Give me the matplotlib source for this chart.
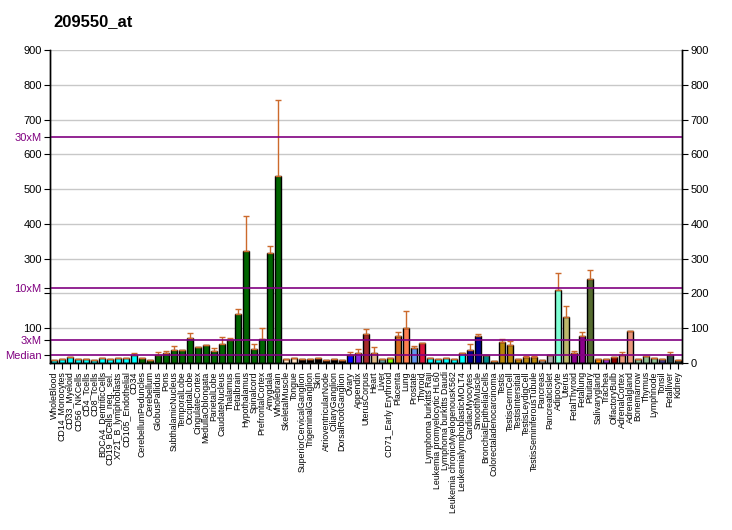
import matplotlib
matplotlib.use("Agg")
import matplotlib.pyplot as plt

title = "209550_at"

categories = [
    "WholeBlood", "CD14_Monocytes", "CD33_Myeloid", "CD56_NKCells", "CD4_Tcells",
    "CD8_Tcells", "BDCA4_DentriticCells", "CD19_BCells_neg._sel.", "X721_B_lymphoblasts",
    "CD105_Endothelial", "CD34", "CerebellumPeduncles", "Cerebellum", "GlobusPallidus",
    "Pons", "SubthalamicNucleus", "TemporalLobe", "OccipitalLobe", "CingulateCortex",
    "MedullaOblongata", "ParietalLobe", "CaudateNucleus", "Thalamus", "Fetalbrain",
    "Hypothalamus", "Spinalcord", "PrefrontalCortex", "Amygdala", "Wholebrain",
    "SkeletalMuscle", "Tongue", "SuperiorCervicalGanglion", "TrigeminalGanglion", "Skin",
    "AtrioventricularNode", "CiliaryGanglion", "DorsalRootGanglion", "Ovary", "Appendix",
    "UterusCorpus", "Heart", "Liver", "CD71_Early Erythroid", "Placenta", "Lung",
    "Prostate", "Thyroid", "Lymphoma burkitts Raji", "Leukemia promyelocytic HL60",
    "Lymphoma burkitts Daudi", "Leukemia chronicMyelogenousK562",
    "LeukemialymphoblasticMOLT4", "CardiacMyocytes", "SmoothMuscle",
    "BronchialEpithelialCells", "Colorectaladenocarcinoma", "Testis", "TestisGermCell",
    "TestisIntersitial", "TestisLeydigCell", "TestisSeminiferousTubule", "Pancreas",
    "PancreaticIslet", "Adipocyte", "Uterus", "FetalThyroid", "Fetallung", "Pituitary",
    "Salivarygland", "Trachea", "OlfactoryBulb", "AdrenalCortex", "Adrenalgland",
    "Bonemarrow", "Thymus", "Lymphnode", "Tonsil", "Fetalliver", "Kidney",
]

values = [
    8.6, 11.5, 17, 11.5, 10.5, 8.6, 14.4, 10.5, 13.4, 13.4, 23,
    14.4, 8.6, 23, 28.8, 37.4, 37.4, 71, 46, 51.8, 34.5, 54.7, 65.2, 141, 322.4,
    40.3, 68.1, 316.6, 538,
    11.5, 14.4, 11.5, 11.5, 14.4, 8.6, 11.5, 8.6, 23, 28.8, 83.5, 28.8, 11.5, 14.4,
    77.7, 100.7, 43.2, 57.6, 14.4, 11.5, 14.4, 11.5, 28.8, 37.4, 77.7, 23, 5.8,
    60.5, 51.8, 11.5, 17.3, 17.3, 8.6, 23, 210, 132.4, 28.8, 77.7, 241.8,
    11.5, 11.5, 17.3, 23, 92, 11.5, 20, 14.4, 11.5, 23, 8.6,
]

errors = [
    0, 1, 0, 1, 0, 1, 1, 0, 0, 0, 4.8,
    1, 1, 7.7, 4.8, 11.6, 0, 14.4, 0, 1, 8.5, 20.1, 6.8, 14.4, 100.6,
    14.4, 32.6, 19.2, 218,
    0, 1, 1, 0, 1, 1, 0, 1, 8.7, 11.5, 14.4, 17.2, 1, 0,
    11.5, 49, 5.8, 1, 0, 0, 0, 0, 1, 17.3, 5.8, 0, 0,
    7.5, 11.5, 1, 1.5, 1.5, 0, 1, 49, 31.6, 5.7, 11.5, 25.9,
    1, 1, 0, 8.7, 1, 0, 0, 0, 1, 8.7, 0,
]

colors = (
    ["#00FFFF"] * 11
    + ["#006400"] * 18
    + ["#FFE4C4"] * 2
    + ["#000000"] * 6
    + ["#0000FF", "#8A2BE2", "#A52A2A", "#DEB887", "#5F9EA0", "#7FFF00",
       "#D2691E", "#FF7F50", "#6495ED", "#DC143C"]
    + ["#00FFFF"] * 5
    + ["#00008B"] * 2
    + ["#008B8B"] * 2
    + ["#B8860B"] * 5
    + ["#A9A9A9"] * 2
    + ["#7FFFD4", "#BDB76B", "#8B008B", "#8B008B", "#556B2F", "#FF8C00",
       "#9932CC", "#8B0000", "#E9967A", "#E9967A"]
    + ["#8FBC8F"] * 3
    + ["#483D8B", "#2F4F4F", "#2F4F4F"]
)

median = 21.67
ref_lines = [median, 3 * median, 10 * median, 30 * median]
ref_labels = ["Median", "3xM", "10xM", "30xM"]
yticks = [100, 200, 300, 400, 500, 600, 700, 800, 900]
left_labels = ["100", "", "300", "400", "500", "600", "700", "800", "900"]

plt.rcParams["font.family"] = ["Liberation Sans", "DejaVu Sans"]

fig = plt.figure(figsize=(7.32, 5.30), dpi=100)
ax = fig.add_axes([50 / 732, (530 - 363) / 530, 632 / 732, 313 / 530])

x = list(range(len(categories)))
for t in yticks:
    ax.axhline(t, color="#C8C8C8", lw=1.0, zorder=0)

ax.bar(x, values, width=0.72, color=colors, edgecolor="black", linewidth=1.0, zorder=2)
ax.errorbar(x, values, yerr=[[0] * len(errors), errors], fmt="none",
            ecolor="#CC6A2C", elinewidth=1.0, capsize=2.2, capthick=1.0, zorder=3)

for v in ref_lines:
    ax.axhline(v, color="#800080", lw=1.2, zorder=4)

ax.set_xlim(-0.5, len(categories) - 0.5)
ax.set_ylim(0, 900)

ax.set_xticks(x)
ax.set_xticklabels(categories, rotation=90, fontsize=6.3)
ax.tick_params(axis="x", length=4, width=0.8, pad=2)

all_ticks = yticks + ref_lines
all_labels = left_labels + ref_labels
ax.set_yticks(all_ticks)
ax.set_yticklabels(all_labels, fontsize=8)
for lab, v in zip(ax.get_yticklabels(), all_ticks):
    if v in ref_lines:
        lab.set_color("#800080")
ax.tick_params(axis="y", length=4, width=0.8, pad=2)

ax2 = ax.twinx()
ax2.set_ylim(0, 900)
ax2.set_yticks([0] + yticks)
ax2.set_yticklabels([str(t) for t in [0] + yticks], fontsize=8)
ax2.tick_params(axis="y", length=4, width=0.8, pad=2)

for a in (ax, ax2):
    a.spines["top"].set_visible(False)
    for s in ("left", "right", "bottom"):
        a.spines[s].set_linewidth(1.0)

fig.text(53 / 732, 1 - 22 / 530, title, fontsize=12, fontweight="bold", va="center", ha="left")

fig.savefig("out.png", dpi=100)
